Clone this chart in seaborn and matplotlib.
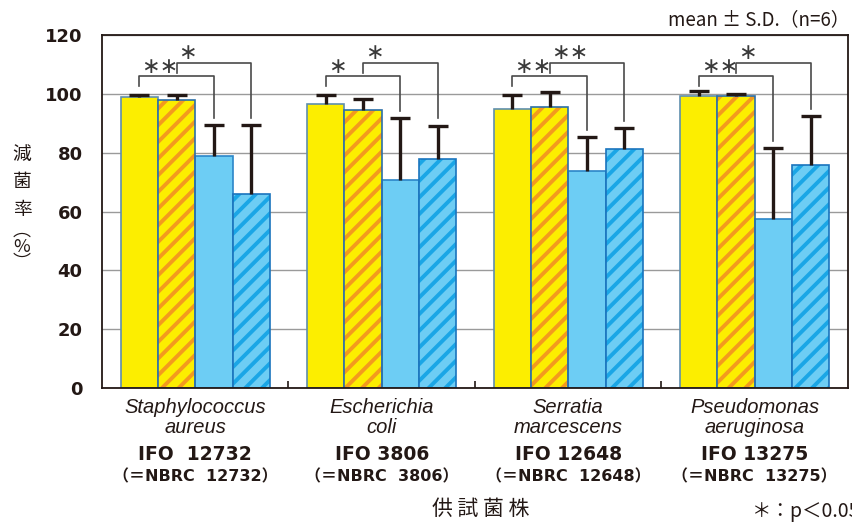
import matplotlib
matplotlib.use('Agg')
import matplotlib.pyplot as plt
import numpy as np
import pandas as pd
import seaborn as sns
from matplotlib.patches import Rectangle
from matplotlib.ticker import FixedLocator

# データ
species_1 = ['Staphylococcus', 'Escherichia', 'Serratia', 'Pseudomonas']
species_2 = ['aureus', 'coli', 'marcescens', 'aeruginosa']
ifo_labels = ['IFO  12732', 'IFO 3806', 'IFO 12648', 'IFO 13275']
nbrc_labels = ['（＝NBRC  12732）', '（＝NBRC  3806）',
               '（＝NBRC  12648）', '（＝NBRC  13275）']
conds = ['A', 'A_h', 'B', 'B_h']
mean_a = [98.8, 96.4, 94.7, 99.1]
sd_a = [0.9, 3.1, 4.9, 2.0]
mean_ah = [98.0, 94.4, 95.5, 99.4]
sd_ah = [1.7, 3.9, 5.2, 0.4]
mean_b = [78.7, 70.6, 73.8, 57.6]
sd_b = [10.6, 21.1, 11.5, 24.0]
mean_bh = [65.8, 78.0, 81.4, 75.9]
sd_bh = [23.5, 11.2, 6.9, 16.5]
# 有意差 (A vs B, A_h vs B_h)
sig_1 = ['**', '*', '**', '**']
sig_2 = ['*', '*', '**', '*']

species = [a + ' ' + b for a, b in zip(species_1, species_2)]
means = [mean_a, mean_ah, mean_b, mean_bh]
sds = [sd_a, sd_ah, sd_b, sd_bh]
df = pd.DataFrame({
    'species': np.tile(species, 4),
    'cond': np.repeat(conds, 4),
    'rate': np.concatenate(means),
    'sd': np.concatenate(sds),
})

yellow = '#fcee00'
orange = '#f39a1e'
lblue = '#6dcdf4'
dblue = '#1aa6e6'
ink = '#231815'
palette = {'A': yellow, 'A_h': yellow, 'B': lblue, 'B_h': lblue}
edges = ['#5f8fae', '#2c6fa8', '#2b86c8', '#1a74bd']
stripes = [None, orange, None, dblue]

plt.rcParams['hatch.linewidth'] = 2.8
fig = plt.figure(figsize=(8.52, 5.23), dpi=100)
ax = fig.add_axes([0.1197, 0.2581, 0.8756, 0.675])

sns.barplot(data=df, x='species', y='rate', hue='cond', order=species,
            hue_order=conds, palette=palette, errorbar=None, width=0.8,
            legend=False, ax=ax, saturation=1)
bars = list(ax.containers)

for i, cont in enumerate(bars):
    for p, m, s in zip(cont.patches, means[i], sds[i]):
        if stripes[i] is not None:
            p.set_hatch('//')
            p.set_edgecolor(stripes[i])
            p.set_linewidth(0)
            ax.add_patch(Rectangle(p.get_xy(), p.get_width(), p.get_height(),
                                   fill=False, edgecolor=edges[i], lw=1.2,
                                   zorder=p.get_zorder() + 0.1))
        else:
            p.set_edgecolor(edges[i])
            p.set_linewidth(1.2)
        xc = p.get_x() + p.get_width() / 2
        # 上側のみの誤差棒
        ax.vlines(xc, m, m + s, color=ink, lw=2.4, zorder=3)
        ax.plot([xc], [m + s], marker='_', ms=14.5, mew=2.4, color=ink,
                zorder=3)

# 有意差ブラケット
def bracket(x1, x2, y_left, y_top, y_right, label, c='#4a4a4a'):
    ax.plot([x1, x1, x2, x2], [y_left, y_top, y_top, y_right],
            color=c, lw=1.2, zorder=4, clip_on=False)
    ax.text(x1 + 0.01, y_top - 0.2, label, ha='left', va='bottom',
            fontsize=16, color='#3a3a3a', family='DejaVu Sans')

for g in range(4):
    xs = [c.patches[g].get_x() + c.patches[g].get_width() / 2 for c in bars]
    bracket(xs[0], xs[2], 102.5, 105.9, mean_b[g] + sd_b[g] + 2.5,
            sig_1[g].replace('*', '∗'))
    bracket(xs[1], xs[3], 107.2, 110.6, mean_bh[g] + sd_bh[g] + 2.5,
            sig_2[g].replace('*', '∗'))

ax.set_ylim(0, 120)
ax.set_xlim(-0.5, 3.5)
ax.set_yticks(np.arange(0, 121, 20))
ax.yaxis.grid(True, color='#9a9a9a', lw=1)
ax.set_axisbelow(True)
ax.tick_params(axis='y', length=0, pad=14, labelsize=13)
for t in ax.get_yticklabels():
    t.set_fontweight('bold')
    t.set_color(ink)
ax.set_xticks(range(4))
ax.set_xticklabels([])
ax.tick_params(axis='x', which='major', length=0)
ax.xaxis.set_minor_locator(FixedLocator([0.5, 1.5, 2.5]))
ax.tick_params(axis='x', which='minor', direction='in', length=5, width=1.2,
               color=ink)
ax.set_xlabel('')
ax.set_ylabel('')
for sp in ax.spines.values():
    sp.set_color(ink)
    sp.set_linewidth(1.3)

# x軸ラベル（各行を個別に配置）
tr = ax.get_xaxis_transform()
def y_ax(px):
    return (388 - px) / 353

for i in range(4):
    ax.text(i, y_ax(413), species_1[i], transform=tr, ha='center',
            va='baseline', fontsize=14.5, fontstyle='italic', color=ink,
            family='Liberation Sans')
    ax.text(i, y_ax(433), species_2[i], transform=tr, ha='center',
            va='baseline', fontsize=14.5, fontstyle='italic', color=ink,
            family='Liberation Sans')
    ax.text(i, y_ax(460), ifo_labels[i], transform=tr, ha='center',
            va='baseline', fontsize=13.5, fontweight='bold', color=ink,
            family=['DejaVu Sans', 'Noto Sans CJK JP'])
    ax.text(i, y_ax(481), nbrc_labels[i], transform=tr, ha='center',
            va='baseline', fontsize=11.5, fontweight='bold', color=ink,
            family=['DejaVu Sans', 'Noto Sans CJK JP'])

fig.text(480.5 / 852, 1 - 509 / 523, '供 試 菌 株', ha='center', va='center',
         fontsize=15, family=['Noto Sans CJK JP'], color=ink)

# 縦書きの y 軸ラベル
fig.text(22 / 852, 1 - 182 / 523, '減\n菌\n率', ha='center', va='center',
         fontsize=13.5, linespacing=1.38, family=['Noto Sans CJK JP'],
         color=ink)
fig.text(22 / 852, 1 - 247 / 523, '︵\n%\n︶', ha='center', va='center',
         fontsize=13, linespacing=0.85, family=['Noto Sans CJK JP'],
         color=ink)

fig.text(850 / 852, 1 - 20 / 523, 'mean ± S.D.（n=6）', ha='right',
         va='center', fontsize=13.5, family=['Noto Sans CJK JP', 'DejaVu Sans'],
         color=ink)
fig.text(752 / 852, 1 - 511 / 523, '＊：p＜0.05', ha='left', va='center',
         fontsize=14, family=['Noto Sans CJK JP', 'DejaVu Sans'],
         color=ink)

fig.savefig('out.png', dpi=100)
